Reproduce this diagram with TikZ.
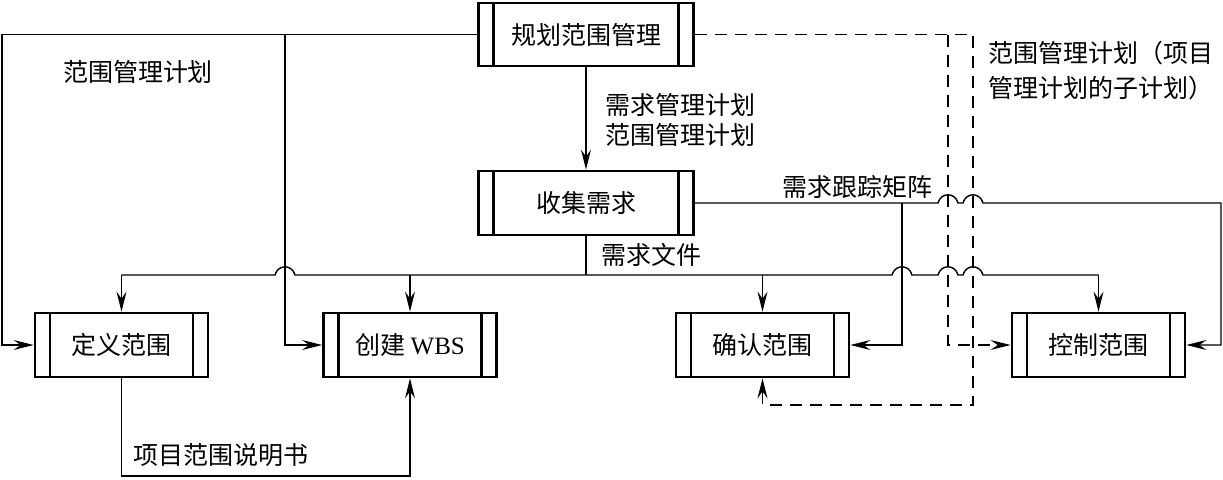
\documentclass[tikz,border=0pt]{standalone}
\usepackage{fontspec}
\setmainfont{Liberation Serif}
\newfontfamily\cjk{Noto Sans CJK SC}
\usetikzlibrary{arrows.meta}
\begin{document}
\begin{tikzpicture}[x=0.5pt,y=-0.5pt,
  box/.style={draw, line width=1.4pt, rectangle, minimum width=86.5pt, minimum height=32pt, inner sep=0pt,
    font=\cjk\fontsize{12.5}{15}\selectfont,
    path picture={
      \draw[line width=1.1pt] ([xshift=7.5pt]path picture bounding box.north west) -- ([xshift=7.5pt]path picture bounding box.south west);
      \draw[line width=1.1pt] ([xshift=-7.5pt]path picture bounding box.north east) -- ([xshift=-7.5pt]path picture bounding box.south east);}},
  lbl/.style={font=\cjk\fontsize{12.5}{15}\selectfont, inner sep=0pt},
  conn/.style={line width=0.7pt},
  dsh/.style={line width=0.75pt, dash pattern=on 6pt off 4pt},
  arr/.style={-{Stealth[length=10pt,width=5pt,inset=3.5pt]}},
  jump/.style={insert path={-- ([xshift=-5pt]#1) .. controls ([xshift=-3.5pt,yshift=5.5pt]#1) and ([xshift=3.5pt,yshift=5.5pt]#1) .. ([xshift=5pt]#1)}}
]
\useasboundingbox (0,0) rectangle (1223,479);

% boxes
\node[box, minimum width=107.5pt, minimum height=31.5pt] (plan) at (586,34.5) {规划范围管理};
\node[box, minimum width=107.5pt] (collect) at (586,203) {收集需求};
\node[box] (define) at (121.5,345) {定义范围};
\node[box] (wbs) at (410,345) {创建 {\rmfamily WBS}};
\node[box] (verify) at (762.5,345) {确认范围};
\node[box] (control) at (1098.5,345) {控制范围};

% helper coordinates
\coordinate (L1) at (2,34.5);
\coordinate (L2) at (285,34.5);
\coordinate (V) at (902,0);
\coordinate (D1) at (948,0);
\coordinate (D2) at (973,0);
\coordinate (R) at (1221,0);
\coordinate (yb) at (0,275);
\coordinate (ydash) at (0,405);
\coordinate (ybot) at (0,476);
\coordinate (J1) at (L2 |- yb);
\coordinate (J2) at (V |- yb);
\coordinate (J3) at (D1 |- yb);
\coordinate (J4) at (D2 |- yb);
\coordinate (K1) at (D1 |- collect.east);
\coordinate (K2) at (D2 |- collect.east);

% solid connectors
\draw[conn,arr] (plan.south) -- (collect.north);
\draw[conn,arr] (plan.west) -- (L1) -- (L1 |- define.west) -- (define.west);
\draw[conn,arr] (L2) -- (L2 |- wbs.west) -- (wbs.west);
\draw[conn] (collect.south) -- (collect.south |- yb);
\draw[conn] (define.north |- yb) [jump=J1] [jump=J2] [jump=J3] [jump=J4] -- (control.north |- yb);
\draw[conn,arr] (define.north |- yb) -- (define.north);
\draw[conn,arr] (wbs.north |- yb) -- (wbs.north);
\draw[conn,arr] (verify.north |- yb) -- (verify.north);
\draw[conn,arr] (control.north |- yb) -- (control.north);
\draw[conn,arr] (collect.east) [jump=K1] [jump=K2] -- (R |- collect.east) -- (R |- control.east) -- (control.east);
\draw[conn,arr] (V |- collect.east) -- (V |- verify.east) -- (verify.east);
\draw[conn,arr] (define.south) -- (define.south |- ybot) -- (wbs.south |- ybot) -- (wbs.south);

% dashed connectors
\draw[dsh,arr] (plan.east) -- (D2 |- plan.east) -- (D2 |- ydash) -- (verify.south |- ydash) -- (verify.south);
\draw[dsh,arr] (D1 |- plan.east) -- (D1 |- control.west) -- (control.west);

% labels
\node[lbl] (l1) at (138,72) {范围管理计划};
\node[lbl, align=left, anchor=west] (l2) at (605,120) {需求管理计划\\范围管理计划};
\node[lbl, align=left, anchor=west] (l3) at (988,70) {范围管理计划（项目\\[2.5pt]管理计划的子计划）};
\node[lbl] (l4) at (857,187) {需求跟踪矩阵};
\node[lbl] (l5) at (651,255) {需求文件};
\node[lbl, anchor=west] (l6) at (133,455) {项目范围说明书};
\end{tikzpicture}
\end{document}
